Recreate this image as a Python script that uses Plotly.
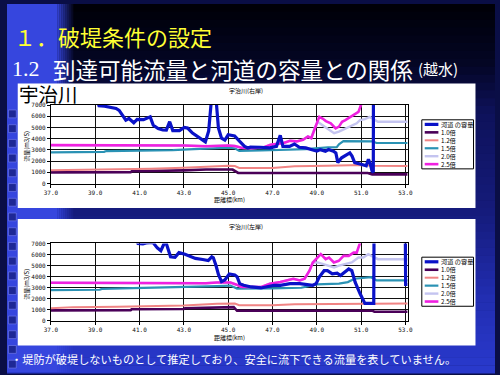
import plotly.graph_objects as go

W, H = 500, 375

# ---------------- data ----------------
KM_TICKS = [37, 39, 41, 43, 45, 47, 49, 51, 53]
Q_TICKS = [0, 1000, 2000, 3000, 4000, 5000, 6000, 7000]
SERIES = ["河道 の容量", "1.0倍", "1.2倍", "1.5倍", "2.0倍", "2.5倍"]
PANEL_TITLES = ["宇治川(右岸)", "宇治川(左岸)"]

# right bank (km, m3/s)
R_CAP = [(39.05, 7600), (39.17, 6950), (39.42, 6900), (39.72, 6760), (39.94, 6700), (40.08, 6530),
         (40.38, 5650), (40.52, 5800), (40.74, 5420), (40.89, 5720), (41.18, 5700), (41.48, 5950),
         (41.62, 5200), (41.84, 4900), (42.05, 4780), (42.21, 4770), (42.36, 5520), (42.5, 4720),
         (42.8, 4720), (43.02, 5000), (43.17, 4950), (43.39, 4500), (43.68, 4080), (43.97, 3720),
         (44.12, 4700), (44.25, 7600), (44.45, 7600), (44.56, 4950), (44.7, 4050), (44.85, 3880),
         (45.0, 4350), (45.29, 4250), (45.52, 3760), (45.74, 3320), (45.89, 3180), (46.0, 3250),
         (46.44, 3240), (46.88, 3180), (47.18, 3320), (47.35, 4300), (47.47, 3320), (47.77, 3320),
         (47.99, 3530), (48.21, 3240), (48.5, 3180), (48.8, 3030), (49.0, 2890), (49.16, 3030),
         (49.39, 2890), (49.53, 3030), (49.75, 2890), (49.86, 2740), (49.95, 1870), (50.12, 2300),
         (50.34, 2600), (50.49, 2740), (50.59, 2450), (50.71, 1870), (51.0, 1720), (51.23, 1580),
         (51.33, 2160), (51.42, 1720), (51.49, 1140), (51.55, 1000), (51.56, 12000), (53.1, 12000)]
R_10 = [(37, 1000), (40.6, 1010), (40.65, 1100), (42.2, 1110), (42.25, 1160), (43.0, 1180),
        (44.0, 1250), (45.0, 1270), (45.2, 1250), (45.45, 950), (51.3, 950), (51.5, 820), (53.1, 820)]
R_12 = [(37, 1180), (38.5, 1220), (40, 1270), (41.5, 1330), (43, 1420), (44.5, 1560), (45.0, 1600),
        (45.3, 1560), (45.5, 1400), (47, 1400), (48, 1550), (49.5, 1580), (51, 1650), (51.5, 1600),
        (53.1, 1560)]
R_15 = [(37, 2780), (38, 2800), (39.4, 2830), (39.5, 2900), (41, 2920), (42.5, 2990), (43.2, 3050),
        (44.5, 3150), (45.0, 3200), (45.3, 3150), (45.5, 2920), (46.5, 2950), (47.5, 3000),
        (48.5, 3080), (49.5, 3220), (49.9, 3250), (50.0, 3500), (50.2, 3780), (51.5, 3760),
        (51.7, 3620), (53.1, 3620)]
R_25 = [(37, 3430), (40, 3420), (43, 3400), (44, 3330), (45, 3400), (45.3, 3350), (45.6, 3200),
        (46.03, 3150), (46.62, 3240), (46.91, 3470), (47.21, 3530), (47.5, 3620), (47.79, 3820),
        (48.09, 3760), (48.38, 3910), (48.6, 4200), (48.75, 4050), (48.9, 4930), (49.11, 5950),
        (49.26, 5800), (49.41, 5570), (49.63, 5370), (49.85, 4930), (50.0, 5080), (50.14, 5510),
        (50.29, 5660), (50.51, 5950), (50.73, 6240), (50.88, 6390), (51.0, 7050), (51.1, 9500),
        (53.1, 9500)]
R_20 = R_25[:18] + [(49.04, 5500), (49.19, 5280), (49.48, 4930), (49.78, 4490), (50.0, 4640),
                    (50.29, 4930), (50.58, 5220), (50.8, 5370), (50.95, 5660), (51.17, 5750),
                    (51.39, 5950), (51.54, 5800), (51.76, 5510), (53.1, 5510)]

# left bank (km, m3/s)
L_CAP = [(40.8, 7600), (40.93, 7000), (41.15, 6950), (41.3, 7050), (41.6, 7100), (41.8, 6600),
         (41.96, 6350), (42.1, 6950), (42.19, 7100), (42.4, 5800), (42.6, 5750), (42.78, 6170),
         (43.05, 6030), (43.25, 5900), (43.52, 5650), (43.85, 5550), (44.1, 5450), (44.26, 5790),
         (44.33, 5700), (44.45, 5000), (44.56, 4200), (44.7, 3550), (44.85, 3700), (45.05, 4250),
         (45.3, 4150), (45.4, 4000), (45.52, 3370), (45.7, 3220), (46.04, 3070), (46.48, 2980),
         (46.78, 3070), (47.07, 3220), (47.35, 3220), (47.79, 3370), (48.23, 3370), (48.53, 3280),
         (48.82, 3220), (48.97, 3370), (49.11, 3960), (49.33, 4540), (49.48, 4540), (49.7, 4250),
         (49.92, 4310), (50.07, 4100), (50.29, 4400), (50.44, 4690), (50.58, 4540), (50.73, 3510),
         (50.95, 2480), (51.17, 1590), (51.57, 1590), (51.59, 12000), (52.98, 12000), (53.01, 3300),
         (53.1, 3300)]
L_10 = [(37, 960), (40.6, 980), (40.65, 1060), (43, 1080), (43.05, 1150), (44.3, 1180),
        (44.35, 1240), (45.25, 1250), (45.4, 920), (51.5, 930), (51.6, 830), (53.1, 830)]
L_12 = [(37, 1150), (38, 1250), (40, 1280), (42, 1320), (43, 1400), (44.5, 1550), (45, 1600),
        (45.3, 1580), (45.5, 1420), (47, 1430), (48, 1520), (50, 1560), (51.5, 1600), (53.1, 1580)]
L_15 = [(37, 2780), (39.2, 2820), (39.3, 2900), (41, 2960), (43, 3050), (44.5, 3150), (45.1, 3200),
        (45.4, 2930), (47, 2950), (48.3, 3000), (49.0, 3300), (50.0, 3370), (50.4, 3510),
        (50.7, 3810), (51.45, 3950), (51.7, 3660), (53.1, 3660)]
L_25 = [(37, 3450), (41, 3450), (43, 3430), (44, 3400), (44.5, 3480), (45.1, 3480), (45.35, 3300),
        (45.6, 3080), (46.5, 3070), (46.88, 3370), (47.35, 3510), (47.64, 3660), (47.94, 3810),
        (48.23, 3660), (48.45, 3810), (48.67, 4540), (48.82, 5280), (49.18, 6030), (49.4, 5580),
        (49.55, 5730), (49.77, 5280), (49.99, 5430), (50.21, 5880), (50.44, 5880), (50.66, 6170),
        (50.8, 6170), (50.95, 7050), (51.05, 9500), (53.1, 9500)]
L_20 = L_25[:17] + [(49.04, 5290), (49.26, 5140), (49.56, 4990), (49.78, 4840), (50.0, 4990),
                    (50.29, 5140), (50.58, 5290), (50.88, 5730), (51.1, 5730), (51.32, 6030),
                    (51.46, 5880), (51.76, 5580), (53.1, 5580)]

PANELS = [[R_CAP, R_10, R_12, R_15, R_20, R_25], [L_CAP, L_10, L_12, L_15, L_20, L_25]]

# ---------------- style ----------------
COLORS = ["#0A12C8", "#4A0058", "#F08484", "#2A92B4", "#C4C4F0", "#F020E0"]
WIDTHS = [3.2, 2.6, 2.0, 2.2, 2.4, 2.6]
DRAW_ORDER = [1, 2, 3, 4, 5, 0]
CJK = "Noto Sans CJK JP"
MONO = "DejaVu Sans Mono"


def px(x):
    return x / W


def py(y):
    return 1 - y / H


fig = go.Figure()

PLOT_X = (45, 410.5)
PLOT_Y = [(103, 183), (244, 323)]
axis_names = [("x", "y"), ("x2", "y2")]

for p, series in enumerate(PANELS):
    xa, ya = axis_names[p]
    for i in DRAW_ORDER:
        pts = series[i]
        fig.add_trace(go.Scatter(
            x=[a for a, _ in pts], y=[b for _, b in pts], mode="lines",
            line=dict(color=COLORS[i], width=WIDTHS[i]),
            xaxis=xa, yaxis=ya, showlegend=False, hoverinfo="skip", name=SERIES[i]))

tickfont = dict(family=MONO, size=6, color="#111")


def xaxis(p):
    return dict(domain=[px(PLOT_X[0]), px(PLOT_X[1])], range=[37, 53.1], tickvals=KM_TICKS,
                tickformat=".1f", showgrid=True, gridcolor="#111", gridwidth=0.8,
                showline=True, linecolor="#000", linewidth=1, mirror=True, ticks="outside",
                ticklen=3, tickcolor="#000", tickfont=tickfont, zeroline=False,
                anchor="y" if p == 0 else "y2", fixedrange=True)


def yaxis(p):
    y0, y1 = PLOT_Y[p]
    return dict(domain=[py(y1), py(y0)], range=[0, 7000], tickvals=Q_TICKS,
                showgrid=True, gridcolor="#111", gridwidth=0.8, showline=True,
                linecolor="#000", linewidth=1, mirror=True, ticks="outside", ticklen=3,
                tickcolor="#000", tickfont=tickfont, zeroline=False,
                anchor="x" if p == 0 else "x2", fixedrange=True)


shapes = []


def rect(x0, y0, x1, y1, color, line=None, layer="below"):
    d = dict(type="rect", xref="paper", yref="paper", x0=px(x0), x1=px(x1), y0=py(y1), y1=py(y0),
             fillcolor=color, layer=layer, line=dict(width=0))
    if line:
        d["line"] = line
    shapes.append(d)


# background gradient
stops = [(0, (0, 0, 6)), (60, (4, 6, 36)), (110, (14, 18, 90)), (215, (22, 28, 125)),
         (300, (34, 46, 178)), (375, (42, 58, 205))]


def grad(y):
    for (ya_, ca), (yb, cb) in zip(stops, stops[1:]):
        if ya_ <= y <= yb:
            t = (y - ya_) / (yb - ya_)
            return tuple(int(ca[k] + (cb[k] - ca[k]) * t) for k in range(3))
    return stops[-1][1]


step = 8
for y in range(0, H, step):
    c = grad(y + step / 2)
    rect(0, y, W, y + step + 0.5, "rgb(%d,%d,%d)" % c)

# left blue strip with soft edge
rect(0, 0, 52, H, "rgb(54,70,222)")
for k in range(8):
    rect(52 + k * 2, 0, 54 + k * 2, H, "rgba(54,70,222,%.2f)" % (1 - (k + 1) / 9))
# film-strip squares
for y in range(108, H, 15):
    rect(1.5, y, 9.5, y + 8, "rgb(30,40,150)", line=dict(color="rgb(120,130,240)", width=0.6))

# white panels
rect(11, 81, 480, 208, "white")
rect(11, 219, 480, 348, "white")

# legends
LEG_BOX = [(425, 118, 478, 168), (425, 258, 478, 308)]
LEG_FIRST = [122.7, 262.7]
annotations = []
for p in range(2):
    x0, y0, x1, y1 = LEG_BOX[p]
    rect(x0, y0, x1, y1, "white", line=dict(color="#000", width=1), layer="above")
    for i, name in enumerate(SERIES):
        yy = LEG_FIRST[p] + i * 8.1
        shapes.append(dict(type="line", xref="paper", yref="paper", x0=px(428), x1=px(442),
                           y0=py(yy), y1=py(yy), layer="above",
                           line=dict(color=COLORS[i], width=WIDTHS[i])))
        annotations.append(dict(text=name, x=px(443), y=py(yy), xref="paper", yref="paper",
                                xanchor="left", yanchor="middle", showarrow=False,
                                font=dict(family=CJK, size=6.2, color="#000")))


def text(t, x, y, size, color, family=CJK, xanchor="left", angle=0):
    annotations.append(dict(text=t, x=px(x), y=py(y), xref="paper", yref="paper",
                            xanchor=xanchor, yanchor="middle", showarrow=False,
                            textangle=angle, font=dict(family=family, size=size, color=color)))


text("１．破堤条件の設定", 5, 33, 22, "#FFFF33")
text("1.2", 3, 66, 22, "white", family="Liberation Serif")
text("到達可能流量と河道の容量との関係", 45, 66, 22.5, "white")
text("(越水)", 419, 66, 15, "white")
text("宇治川", 10, 91.5, 19.5, "#000")
text("・堤防が破堤しないものとして推定しており、安全に流下できる流量を表していません。", 2, 362, 11.2, "white")

for p in range(2):
    y0, y1 = PLOT_Y[p]
    text(PANEL_TITLES[p], 245, 88 if p == 0 else 227, 6, "#000", xanchor="center")
    text("流量(m3/S)", 20, (y0 + y1) / 2 + 2, 6, "#000", xanchor="center", angle=-90)
    text("距離標(km)", 228, 199 if p == 0 else 340, 6, "#000", xanchor="center")

fig.update_layout(
    width=W, height=H, margin=dict(l=0, r=0, t=0, b=0),
    paper_bgcolor="rgb(10,14,70)", plot_bgcolor="rgba(0,0,0,0)",
    xaxis=xaxis(0), yaxis=yaxis(0), xaxis2=xaxis(1), yaxis2=yaxis(1),
    shapes=shapes, annotations=annotations, showlegend=False,
)

fig.write_html("out.html", config={"displayModeBar": False},
               post_script="document.body.style.margin='0';document.body.style.overflow='hidden';")
